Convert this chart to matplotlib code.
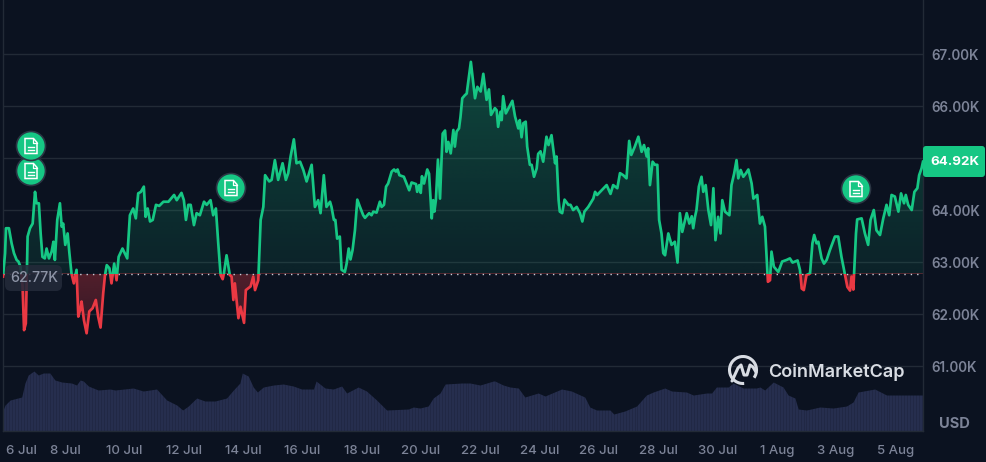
import matplotlib
matplotlib.use("Agg")
import matplotlib.pyplot as plt
import numpy as np
from matplotlib.patches import Arc, Circle, FancyBboxPatch, Polygon, Rectangle

plt.rcParams['font.family'] = ['Inter', 'DejaVu Sans']

# days after 6 Jul, prices in thousands of USD
days = [
    -0.10, -0.03, 0.00, 0.10, 0.19, 0.27, 0.36, 0.42, 0.49, 0.56, 0.61, 0.67, 0.72, 0.73, 0.81, 0.90, 0.98, 1.03, 1.11, 1.17,
    1.23, 1.31, 1.37, 1.45, 1.54, 1.60, 1.65, 1.73, 1.82, 1.88, 1.93, 2.00, 2.08, 2.14, 2.21, 2.29, 2.38, 2.44, 2.50, 2.55,
    2.63, 2.72, 2.81, 2.92, 3.03, 3.11, 3.19, 3.28, 3.34, 3.40, 3.49, 3.56, 3.65, 3.73, 3.80, 3.93, 4.09, 4.18, 4.29, 4.38,
    4.46, 4.55, 4.65, 4.71, 4.78, 4.86, 4.95, 5.06, 5.17, 5.31, 5.48, 5.67, 5.76, 5.92, 6.00, 6.07, 6.15, 6.23, 6.34, 6.43,
    6.54, 6.68, 6.77, 6.90, 6.99, 7.08, 7.16, 7.24, 7.31, 7.35, 7.44, 7.55, 7.61, 7.67, 7.72, 7.84, 7.91, 8.03, 8.09, 8.25,
    8.34, 8.40, 8.51, 8.59, 8.68, 8.74, 8.88, 8.96, 9.07, 9.18, 9.33, 9.44, 9.52, 9.60, 9.71, 9.80, 9.92, 10.03, 10.14, 10.31,
    10.42, 10.53, 10.61, 10.72, 10.81,
    10.93, 10.98, 11.06, 11.11, 11.17, 11.26, 11.32, 11.43, 11.49, 11.56, 11.62, 11.69, 11.77, 11.85, 11.94, 12.05, 12.11, 12.25, 12.33, 12.39,
    12.50, 12.61, 12.67, 12.75, 12.82, 12.89, 13.01, 13.09, 13.15, 13.21, 13.27, 13.42, 13.51, 13.60, 13.68, 13.83, 13.87, 13.94, 13.99, 14.03,
    14.10, 14.21, 14.27, 14.36, 14.41, 14.45, 14.50, 14.57, 14.64, 14.69, 14.73, 14.81, 14.86, 14.92, 15.00, 15.09, 15.14, 15.20, 15.28, 15.33,
    15.39, 15.48, 15.54, 15.68, 15.82, 15.90, 16.01, 16.10, 16.21, 16.29, 16.36, 16.49, 16.55, 16.60, 16.68, 16.72, 16.77, 16.86, 16.98, 17.08,
    17.17, 17.28, 17.33, 17.39, 17.45, 17.53, 17.58, 17.67, 17.73, 17.81, 17.90, 17.95, 18.03, 18.12, 18.23, 18.30, 18.40, 18.52, 18.57, 18.64,
    18.68, 18.76, 18.84, 18.97, 19.04, 19.13, 19.25, 19.36, 19.44, 19.51, 19.64, 19.81, 19.87, 19.94, 20.09, 20.26, 20.39, 20.48, 20.62, 20.71,
    20.82, 20.93, 21.02, 21.09, 21.21, 21.33, 21.44, 21.52, 21.61, 21.66, 21.72, 21.81, 21.89, 21.97,
    22.03, 22.11, 22.17, 22.23, 22.34, 22.45, 22.56, 22.65, 22.73, 22.81, 22.96, 23.05, 23.13, 23.18, 23.24, 23.29, 23.37, 23.46, 23.52, 23.60,
    23.69, 23.78, 23.86, 23.93, 24.02, 24.10, 24.16, 24.25, 24.40, 24.47, 24.56, 24.64, 24.70, 24.78, 24.87, 24.95, 25.04, 25.15, 25.21, 25.34,
    25.43, 25.51, 25.60, 25.67, 25.70, 25.77, 25.82, 25.90, 26.05, 26.18, 26.33, 26.44, 26.53, 26.70, 26.78, 26.84, 26.91, 27.00, 27.12, 27.20,
    27.26, 27.34, 27.40, 27.51, 27.59, 27.68, 27.79, 27.96, 28.07, 28.18, 28.30, 28.38, 28.47, 28.52, 28.58, 28.67, 28.71, 28.86, 28.97, 29.08,
    29.16, 29.27, 29.36, 29.48, 29.59, 29.70, 29.79, 29.87, 29.98, 30.10, 30.19, 30.29, 30.35, 30.43, 30.55, 30.64, 30.74, 30.80, 30.88, 30.93,
]
prices = [
    62.72, 63.17, 63.65, 63.65, 63.36, 63.17, 63.04, 63.01, 62.91, 62.53, 61.69, 61.82, 63.17, 63.49, 63.65, 63.74, 64.35, 64.13, 64.13, 63.55,
    63.10, 63.07, 63.26, 63.07, 63.20, 63.39, 63.04, 63.81, 64.13, 63.68, 63.74, 63.33, 63.55, 63.17, 62.78, 62.59, 62.85, 61.95, 62.08, 62.24,
    61.88, 61.63, 62.05, 62.11, 62.27, 61.95, 61.74, 62.40, 62.75, 62.94, 62.88, 62.59, 62.97, 62.65, 63.10, 63.26, 63.07, 63.90, 64.03, 63.84,
    64.32, 64.35, 64.45, 63.87, 64.03, 63.78, 63.81, 64.10, 64.08, 64.16, 64.16, 64.29, 64.19, 64.33, 64.19, 63.81, 64.10, 64.10, 63.71, 63.94,
    63.90, 64.16, 64.10, 64.19, 63.90, 64.03, 63.36, 62.75, 62.67, 62.78, 63.13, 62.75, 62.72, 62.27, 62.59, 61.92, 62.14, 61.83, 62.46, 62.53,
    62.72, 62.46, 62.65, 63.81, 64.06, 64.67, 64.55, 64.58, 64.96, 64.58, 64.90, 64.58, 64.71, 65.03, 65.36, 64.90, 64.93, 64.77, 64.55, 64.87,
    64.06, 64.19, 63.94, 64.67, 64.06,
    64.16, 64.06, 63.81, 63.81, 63.45, 63.49, 62.85, 62.81, 62.97, 63.26, 63.05, 63.23, 63.61, 64.20, 64.06, 63.90, 63.85, 63.94, 63.90, 63.97,
    63.95, 64.16, 64.06, 64.10, 64.45, 64.51, 64.74, 64.78, 64.74, 64.78, 64.67, 64.64, 64.51, 64.38, 64.53, 64.50, 64.35, 64.48, 64.33, 64.65,
    64.51, 64.78, 64.70, 63.84, 64.19, 63.97, 64.19, 64.97, 64.22, 64.96, 65.47, 65.53, 65.12, 65.31, 65.09, 65.54, 65.22, 65.51, 65.57, 65.79,
    66.15, 66.21, 66.24, 66.85, 66.15, 66.37, 66.28, 66.62, 66.12, 66.32, 65.83, 65.96, 65.92, 65.60, 65.89, 65.73, 66.19, 65.86, 65.99, 66.10,
    65.80, 65.57, 65.73, 65.40, 65.67, 65.70, 65.22, 64.87, 64.87, 64.64, 64.80, 65.08, 65.13, 64.93, 65.41, 65.25, 65.44, 64.90, 65.03, 64.19,
    63.97, 63.94, 64.20, 64.10, 64.10, 64.00, 64.06, 63.94, 63.78, 63.97, 64.06, 64.22, 64.35, 64.29, 64.38, 64.48, 64.31, 64.48, 64.42, 64.71,
    64.67, 64.61, 65.33, 65.06, 65.22, 65.41, 65.12, 65.25, 65.03, 65.19, 64.48, 64.93, 64.87, 64.87,
    63.81, 63.55, 63.17, 63.13, 63.55, 63.33, 63.39, 62.99, 63.94, 63.58, 63.94, 63.74, 63.88, 63.65, 63.87, 64.00, 64.45, 64.64, 64.35, 64.48,
    64.00, 63.71, 64.42, 63.42, 63.87, 63.55, 64.19, 63.97, 63.90, 64.48, 64.70, 64.96, 64.61, 64.77, 64.64, 64.70, 64.78, 64.51, 64.22, 64.29,
    63.74, 63.87, 63.68, 62.91, 62.62, 62.65, 63.20, 62.91, 62.81, 63.01, 63.04, 63.07, 62.99, 63.03, 62.85, 62.49, 62.46, 62.75, 62.78, 63.36,
    63.52, 63.36, 63.39, 63.07, 62.97, 63.04, 63.23, 63.49, 63.49, 63.10, 62.75, 62.52, 62.45, 62.72, 62.47, 63.55, 63.82, 63.84, 63.55, 63.33,
    63.81, 64.00, 63.61, 63.52, 63.84, 64.10, 63.90, 64.29, 64.26, 63.97, 64.32, 64.13, 64.29, 64.10, 64.00, 64.35, 64.42, 64.67, 64.80, 64.93,
]
base_price = 62.77
last_price = "64.92K"

# volume in billions of USD
vol_days = [
    -0.10, -0.03, 0.14, 0.53, 0.64, 0.75, 0.94, 1.09, 1.26, 1.48, 1.65, 1.88, 2.21, 2.38, 2.50, 2.61, 2.78, 3.11, 3.51, 3.68,
    4.29, 4.63, 5.08, 5.42, 5.76, 5.96, 6.15, 6.43, 6.71, 7.05, 7.44, 7.67, 7.89, 7.97, 8.17, 8.34, 8.48, 8.68, 9.02, 9.35,
    9.69, 9.97, 10.37, 10.46, 10.76, 11.04, 11.32, 11.49, 11.88, 12.16, 12.50, 12.84, 13.57, 13.74, 13.96, 14.24, 14.41, 14.64, 14.81, 15.37,
    15.65, 15.99, 16.44, 16.49, 16.77, 17.00, 17.28, 17.50, 17.95, 18.18, 18.74, 19.07, 19.52, 19.69, 19.92, 20.37, 20.50, 20.87, 21.27, 21.60,
    21.83, 22.22, 22.45, 22.95, 23.18, 23.63, 23.80, 23.96, 24.36, 24.53, 24.86, 25.31, 25.43, 25.59, 25.88, 26.21, 26.38, 26.61, 26.72, 27.00,
    27.45, 27.90, 28.35, 28.57, 28.74, 29.30, 29.70, 30.71, 30.93,
]
volumes = [
    21, 26, 31, 34, 48, 56, 60, 56, 58, 58, 51, 49, 48, 46, 51, 50, 45, 41, 42, 41,
    43, 40, 42, 31, 26, 21, 25, 33, 30, 30, 33, 41, 48, 58, 55, 44, 39, 44, 46, 47,
    45, 42, 42, 50, 43, 42, 45, 38, 44, 40, 31, 21, 22, 24, 23, 25, 33, 38, 47, 48,
    48, 46, 50, 50, 46, 44, 43, 34, 38, 35, 42, 40, 34, 24, 21, 21, 17, 20, 25, 36,
    39, 43, 40, 39, 36, 38, 38, 44, 44, 48, 43, 43, 44, 41, 49, 44, 36, 33, 22, 21,
    24, 23, 25, 29, 39, 42, 36, 36, 36,
]

price_ticks = [61, 62, 63, 64, 65, 66, 67]
price_labels = ["61.00K", "62.00K", "63.00K", "64.00K", "", "66.00K", "67.00K"]
date_ticks = [0, 2, 4, 6, 8, 10, 12, 14, 16, 18, 20, 22, 24, 26, 28, 30]
date_labels = ["6 Jul", "8 Jul", "10 Jul", "12 Jul", "14 Jul", "16 Jul", "18 Jul", "20 Jul",
               "22 Jul", "24 Jul", "26 Jul", "28 Jul", "30 Jul", "1 Aug", "3 Aug", "5 Aug"]

BG = '#0b1220'
GREEN = '#16c784'
RED = '#ea3943'
GRID = '#222a36'
MUTED = '#7c8397'

W, H = 987, 462
fig = plt.figure(figsize=(W / 100, H / 100), dpi=100, facecolor=BG)
rect = [3 / W, (H - 431) / H, 920 / W, 431 / H]

# 1. volume underneath
ax_vol = fig.add_axes(rect, facecolor=BG, zorder=1)
ax_vol.set_xlim(-0.10, 30.93)
ax_vol.set_ylim(0, 431)
ax_vol.axis('off')
vol_poly = ax_vol.fill_between(vol_days, volumes, 0, color='#262e4e', lw=0)
stripes = ax_vol.vlines(np.arange(-0.1, 30.93, 0.1), 0, 70, color=BG, lw=0.6, alpha=0.22)
stripes.set_clip_path(vol_poly.get_paths()[0], ax_vol.transData)

# 2. price
ax = fig.add_axes(rect, facecolor='none', zorder=2)
ax.set_xlim(-0.10, 30.93)
ax.set_ylim(59.75, 68.04)
ax.yaxis.tick_right()
ax.set_yticks(price_ticks)
ax.set_yticklabels(price_labels, color=MUTED, fontsize=9.7, fontweight='semibold')
ax.set_xticks(date_ticks)
ax.set_xticklabels(date_labels, color=MUTED, fontsize=9.5, fontweight='medium')
ax.tick_params(axis='both', length=0)
ax.tick_params(axis='x', pad=10)
ax.tick_params(axis='y', pad=6)
ax.get_xticklabels()[0].set_ha('left')
ax.grid(True, axis='y', color=GRID, lw=1)
ax.set_axisbelow(True)
ax.spines['top'].set_visible(False)
for side in ['left', 'right', 'bottom']:
    ax.spines[side].set_color(GRID)
    ax.spines[side].set_linewidth(1)

fill = ax.fill_between(days, prices, base_price, color='none', lw=0)
fill_path = fill.get_paths()[0]


def gradient(color, alpha_top, alpha_bottom, y_bottom, y_top):
    img = np.zeros((256, 2, 4))
    img[..., :3] = matplotlib.colors.to_rgb(color)
    img[..., 3] = np.linspace(alpha_top, alpha_bottom, 256)[:, None]
    im = ax.imshow(img, extent=[-0.10, 30.93, y_bottom, y_top], aspect='auto', origin='upper', zorder=1.5)
    im.set_clip_path(fill_path, ax.transData)


gradient(GREEN, 0.30, 0.09, base_price, max(prices))
gradient(RED, 0.32, 0.18, min(prices), base_price)
ax.set_xlim(-0.10, 30.93)
ax.set_ylim(59.75, 68.04)

line_up, = ax.plot(days, prices, color=GREEN, lw=1.95, zorder=3, solid_joinstyle='round')
line_down, = ax.plot(days, prices, color=RED, lw=1.95, zorder=3, solid_joinstyle='round')
line_up.set_clip_path(Rectangle((-0.10, base_price), 31.03, 8, transform=ax.transData))
line_down.set_clip_path(Rectangle((-0.10, 59.75), 31.03, base_price - 59.75, transform=ax.transData))
ax.axhline(base_price, color='#c9ced8', lw=1, ls=(0, (1, 3.6)), zorder=2.5)

# 3. everything on top, placed in pixels
top = fig.add_axes([0, 0, 1, 1], facecolor='none', zorder=3)
top.set_xlim(0, W)
top.set_ylim(H, 0)
top.axis('off')

top.add_patch(FancyBboxPatch((5, 265), 57, 26, boxstyle='round,pad=0,rounding_size=6', fc='#232a3a', ec='none', alpha=0.88))
top.text(34, 277.5, "62.77K", color='#8d94a6', fontsize=10.3, fontweight='medium', ha='center', va='center')
top.add_patch(FancyBboxPatch((923, 146), 62, 31, boxstyle='round,pad=0,rounding_size=3', fc=GREEN, ec='none'))
top.text(955, 162, last_price, color='white', fontsize=9.6, fontweight='bold', ha='center', va='center')
top.text(954, 424, "USD", color=MUTED, fontsize=10.5, fontweight='bold', ha='center', va='center')


def note(cx, cy):
    top.add_patch(Circle((cx, cy), 14.5, fc=GREEN, ec='#2b3644', lw=1.2))
    page = [(cx - 6, cy - 7.5), (cx + 2.5, cy - 7.5), (cx + 6, cy - 3.5), (cx + 6, cy + 7.5), (cx - 6, cy + 7.5)]
    top.add_patch(Polygon(page, closed=True, fc='none', ec='white', lw=1.1))
    top.plot([cx + 2, cx + 2, cx + 6], [cy - 7, cy - 3, cy - 3], color='white', lw=0.9)
    top.plot([cx - 3, cx + 3], [cy + 0.5, cy + 0.5], color='white', lw=1)
    top.plot([cx - 3, cx + 3], [cy + 3.5, cy + 3.5], color='white', lw=1)


note(31, 171)
note(31, 146)
note(231, 188)
note(856, 189)

# logo
logo = '#d8dce3'
top.add_patch(Arc((743, 370), 27, 27, theta1=85, theta2=395, color=logo, lw=2.2))
top.plot([732, 738, 741, 744, 747, 750, 753, 756], [381, 368, 365, 375, 375, 365, 367, 372],
         color=logo, lw=2.2, solid_joinstyle='round', solid_capstyle='round')
top.text(768, 372, "CoinMarketCap", color=logo, fontsize=13.0, fontweight='semibold', ha='left', va='center')

fig.savefig('out.png', dpi=100, facecolor=BG)
